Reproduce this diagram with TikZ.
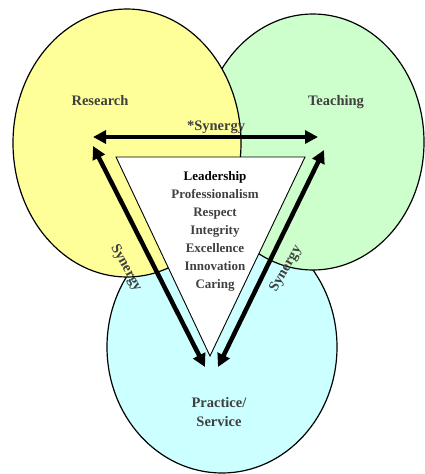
\documentclass[tikz,border=0pt]{standalone}
\usepackage{fontspec}
\setmainfont{Liberation Serif}
\usetikzlibrary{arrows.meta}
\definecolor{yel}{HTML}{FFFF99}
\definecolor{grn}{HTML}{CCFFCC}
\definecolor{blu}{HTML}{CCFFFF}
\definecolor{txt}{HTML}{404040}
\begin{document}
\begin{tikzpicture}[x=1pt,y=1pt,
  bubble/.style={draw=black, line width=1.2pt},
  lbl/.style={font=\fontsize{14.5}{19}\selectfont\bfseries, text=txt, inner sep=0pt},
  bigarrow/.style={line width=4.5pt, {Triangle[length=13pt,width=13pt]}-{Triangle[length=13pt,width=13pt]}}
]
\useasboundingbox (0,0) rectangle (425,-474);
% circles
\filldraw[bubble, fill=blu] (222,-347) ellipse [x radius=115, y radius=126];
\filldraw[bubble, fill=grn] (313,-142) ellipse [x radius=111, y radius=128];
\filldraw[bubble, fill=yel] (127,-143) ellipse [x radius=114, y radius=134];
% triangle of values
\filldraw[fill=white, draw=black, line width=0.9pt] (116,-157) -- (305,-157) -- (210,-356) -- cycle;
\node[font=\fontsize{13}{18}\selectfont\bfseries, text=txt, align=center, inner sep=0pt] (values) at (215,-231)
  {\textcolor{black}{Leadership}\\Professionalism\\Respect\\Integrity\\Excellence\\Innovation\\Caring};
% labels
\node[lbl, anchor=base] (research) at (100,-105) {Research};
\node[lbl, anchor=base] (teaching) at (336,-105) {Teaching};
\node[lbl, anchor=base] (syntop) at (216,-130) {*Synergy};
\node[lbl, rotate=-61] (synleft) at (126,-268) {Synergy};
\node[lbl, rotate=60] (synright) at (286,-269) {Synergy};
\node[lbl, align=center, anchor=base] (practice) at (219,-426) {Practice/\\Service};
% arrow ends
\coordinate (rA) at (93,-137);
\coordinate (tA) at (318,-137);
\coordinate (rB) at (93,-146);
\coordinate (pL) at (205,-367);
\coordinate (tB) at (324,-150);
\coordinate (pR) at (218,-367);
\draw[bigarrow] (rA) -- (tA);
\draw[bigarrow] (rB) -- (pL);
\draw[bigarrow] (tB) -- (pR);
\end{tikzpicture}
\end{document}
